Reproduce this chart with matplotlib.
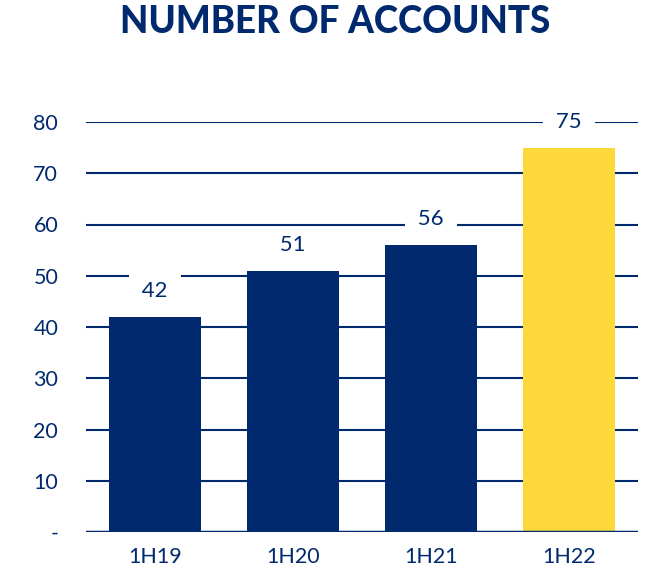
import matplotlib
matplotlib.use("Agg")
import matplotlib.pyplot as plt

categories = ["1H19", "1H20", "1H21", "1H22"]
values = [42, 51, 56, 75]
yticks = [0, 10, 20, 30, 40, 50, 60, 70, 80]
ytick_labels = ["-", "10", "20", "30", "40", "50", "60", "70", "80"]

NAVY = "#012a6e"
YELLOW = "#fdd83b"
colors = [NAVY, NAVY, NAVY, YELLOW]

plt.rcParams['font.family'] = ['Lato', 'DejaVu Sans']

fig = plt.figure(figsize=(6.56, 5.75), dpi=100)
ax = fig.add_axes([86/656, 1 - 532/575, (638-86)/656, (532-122)/575])

x = list(range(len(categories)))
ax.set_ylim(0, 80)
ax.set_xlim(-0.5, 3.5)
for y in yticks[1:]:
    ax.axhline(y, color=NAVY, lw=1.5, zorder=1)
ax.axhline(0, color=NAVY, lw=2.5, zorder=4)
ax.bar(x, values, width=0.66, color=colors, zorder=3)

for xi, v in zip(x, values):
    ax.text(xi, v + 5, " " + str(v) + " ", ha='center', va='center', fontsize=16, color=NAVY,
            zorder=5, clip_on=False,
            bbox=dict(facecolor='white', edgecolor='none', pad=5))

ax.set_yticks(yticks)
ax.set_yticklabels(ytick_labels)
ax.set_xticks(x)
ax.set_xticklabels(categories)
ax.tick_params(axis='both', length=0, labelsize=15.5, labelcolor=NAVY)
ax.tick_params(axis='y', pad=20)
ax.tick_params(axis='x', pad=11)
for s in ax.spines.values():
    s.set_visible(False)

fig.text(0.511, 1 - 22/575, "NUMBER OF ACCOUNTS", ha='center', va='center',
         fontsize=26.5, fontweight='black', color=NAVY)

fig.savefig("out.png", dpi=100)
